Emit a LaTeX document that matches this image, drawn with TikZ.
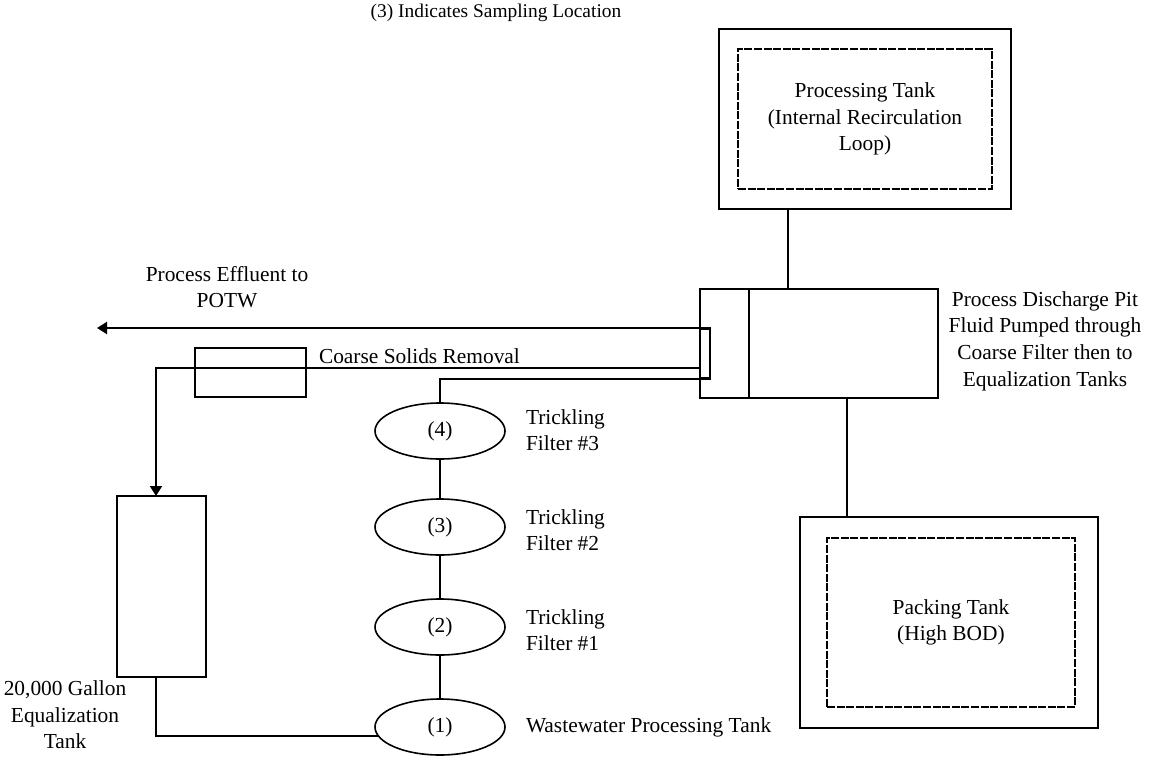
\documentclass[tikz,border=0pt]{standalone}
\usepackage{fontspec}
\setmainfont{Liberation Serif}
\usetikzlibrary{arrows.meta,shapes.geometric,calc}
\begin{document}
\begin{tikzpicture}[x=0.5pt,y=-0.5pt,
 line width=1pt,
 box/.style={draw, rectangle, inner sep=0pt, line width=1pt},
 inbox/.style={draw, rectangle, inner sep=0pt, line width=0.7pt, dash pattern=on 4pt off 0.8pt},
 lbl/.style={font=\fontsize{10.7}{13.3}\selectfont, inner sep=0pt, align=center},
 lbll/.style={lbl, align=left, anchor=west},
 ell/.style={draw, ellipse, minimum width=65pt, minimum height=28pt, inner sep=0pt, line width=0.8pt, font=\fontsize{10.7}{13.3}\selectfont},
 arr/.style={-{Triangle[length=5pt,width=6pt]}}]
\useasboundingbox (0,0) rectangle (1156,771);
% title
\node[lbl, font=\fontsize{9.7}{12}\selectfont] (title) at (496,13) {(3) Indicates Sampling Location};
% processing tank
\node[box, minimum width=146pt, minimum height=90pt] (procO) at (865,119) {};
\node[inbox, lbl, minimum width=127pt, minimum height=70pt] (procI) at (865,119) {Processing Tank\\(Internal Recirculation\\Loop)};
% discharge pit
\node[box, minimum width=119pt, minimum height=54.5pt] (pit) at (819,343.5) {};
\draw ($(pit.north west)+(50,0)$) coordinate (pa) -- (pa |- pit.south);
\node[box, minimum width=5pt, minimum height=24.5pt] (sr) at (705,353.5) {};
\node[lbl] (pittxt) at (1045,341) {Process Discharge Pit\\Fluid Pumped through\\Coarse Filter then to\\Equalization Tanks};
% packing tank
\node[box, minimum width=149pt, minimum height=105.5pt] (packO) at (949,622.5) {};
\node[inbox, lbl, minimum width=124pt, minimum height=84.5pt] (packI) at (951,622.5) {Packing Tank\\(High BOD)};
% coarse solids
\node[box, minimum width=55.5pt, minimum height=24.5pt] (coarse) at (250.5,372.5) {};
\node[lbll] (coarsetxt) at (318,356) {Coarse Solids Removal};
% effluent
\node[lbl] (efftxt) at (227,287) {Process Effluent to\\POTW};
% equalization tank
\node[box, minimum width=44.5pt, minimum height=90.5pt] (eq) at (161.5,586.5) {};
\node[lbl] (eqtxt) at (65,715) {20,000 Gallon\\Equalization\\Tank};
% trickling filters
\node[ell] (e4) at (440,431) {(4)};
\node[ell] (e3) at (440,527) {(3)};
\node[ell] (e2) at (440,627) {(2)};
\node[ell] (e1) at (440,727) {(1)};
\node[lbll] (t3) at (525,430) {Trickling\\Filter \#3};
\node[lbll] (t2) at (525,530) {Trickling\\Filter \#2};
\node[lbll] (t1) at (525,630) {Trickling\\Filter \#1};
\node[lbll] (ww) at (525,727) {Wastewater Processing Tank};
% connectors
\draw ($(procO.south west)+(70,0)$) coordinate (pb) -- (pb |- pit.north);
\draw ($(pit.south west)+(148,0)$) coordinate (pc) -- (pc |- packO.north);
\coordinate (effend) at (97,329);
\draw[arr] (sr.north east) -- (sr.north east -| effend);
\coordinate (cs) at (700,368);
\coordinate (eqin) at (156,496);
\draw[arr] (cs) -| (eqin);
\draw (sr.south east) -| (e4.north);
\draw (e4.south) -- (e3.north);
\draw (e3.south) -- (e2.north);
\draw (e2.south) -- (e1.north);
\coordinate (eqout) at (156,677);
\coordinate (e1in) at (378.5,736);
\draw (eqout) |- (e1in);
\end{tikzpicture}
\end{document}
